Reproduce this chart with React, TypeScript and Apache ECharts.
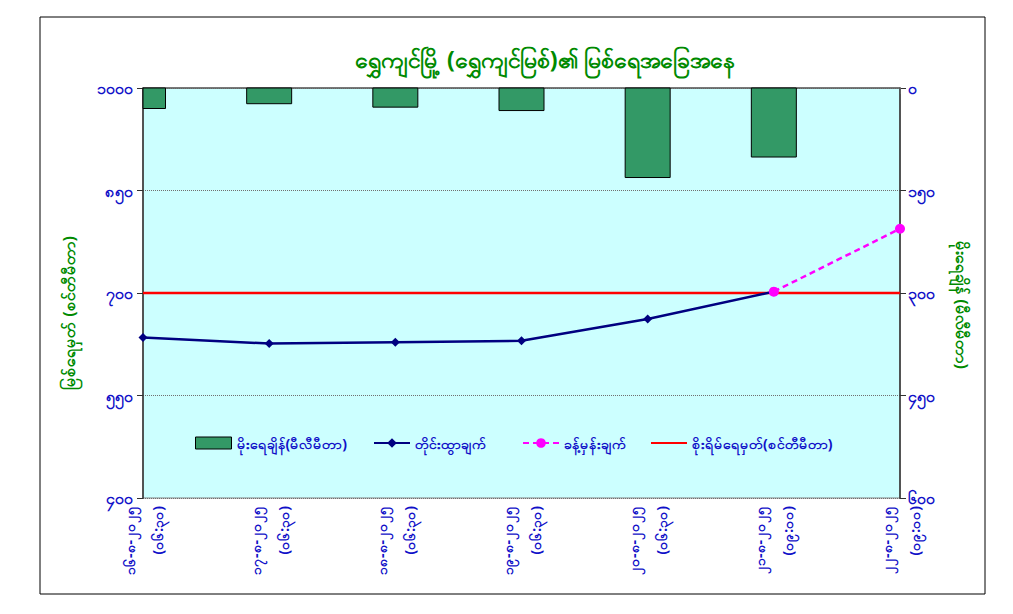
import React, { useEffect, useRef } from "react";
import * as echarts from "echarts";

const categories = [
  "၁၆-၈-၂၀၂၅\n(၀၆:၃၀)",
  "၁၇-၈-၂၀၂၅\n(၀၆:၃၀)",
  "၁၈-၈-၂၀၂၅\n(၀၆:၃၀)",
  "၁၉-၈-၂၀၂၅\n(၀၆:၃၀)",
  "၂၀-၈-၂၀၂၅\n(၀၆:၃၀)",
  "၂၁-၈-၂၀၂၅\n(၀၉:၀၀)",
  "၂၂-၈-၂၀၂၅\n(၀၉:၀၀)",
];
const rainfall = [30, 23, 28, 33, 131, 101, null];
const observed = [635, 626, 628, 630, 662, 702, null];
const forecast = [null, null, null, null, null, 702, 794];
const dangerLevel = [700, 700, 700, 700, 700, 700, 700];

const titleText = "ရွှေကျင်မြို့ (ရွှေကျင်မြစ်)၏ မြစ်ရေအခြေအနေ";
const leftAxisName = "မြစ်ရေမှတ် (စင်တီမီတာ)";
const rightAxisName = "မိုးရေချိန် (မီလီမီတာ)";
const seriesNames = [
  "မိုးရေချိန်(မီလီမီတာ)",
  "တိုင်းထွာချက်",
  "ခန့်မှန်းချက်",
  "စိုးရိမ်ရေမှတ်(စင်တီမီတာ)",
];

const MM_DIGITS = "၀၁၂၃၄၅၆၇၈၉";
const toMM = (v: number | string) =>
  String(v).replace(/[0-9]/g, (d) => MM_DIGITS[Number(d)]);

const FONT = "'Noto Sans', 'DejaVu Sans', sans-serif";
const BLUE = "#1010c8";
const GREEN = "#008a00";
const BAR_GREEN = "#339966";

const legendText = { color: BLUE, fontWeight: "bold", fontSize: 14, fontFamily: FONT };
const legendBase = {
  top: 431,
  itemWidth: 36,
  itemHeight: 12,
  textStyle: legendText,
};

export default function App() {
  const ref = useRef<HTMLDivElement>(null);
  useEffect(() => {
    document.body.style.margin = "0";
    if (!ref.current) return;
    const chart = echarts.init(ref.current, undefined, { renderer: "svg" });
    const rainData = rainfall
      .map((v, i) => (v == null ? null : [i, v]))
      .filter((d) => d != null);
    chart.setOption({
      animation: false,
      backgroundColor: "#ffffff",
      textStyle: { fontFamily: FONT },
      title: {
        text: titleText,
        left: 350,
        top: 42,
        textStyle: { color: GREEN, fontSize: 23, fontWeight: "bold", fontFamily: FONT },
      },
      graphic: [
        {
          type: "rect",
          shape: { x: 40, y: 17, width: 945, height: 577 },
          style: { fill: "none", stroke: "#000", lineWidth: 1 },
          z: 0,
        },
      ],
      grid: {
        left: 143,
        right: 113,
        top: 88,
        bottom: 116,
        show: true,
        backgroundColor: "#ccffff",
        borderColor: "#808080",
        borderWidth: 1,
      },
      legend: [
        {
          ...legendBase,
          left: 190,
          data: [
            {
              name: seriesNames[0],
              icon: "rect",
              itemStyle: { color: BAR_GREEN, borderColor: "#000", borderWidth: 1 },
            },
          ],
        },
        { ...legendBase, left: 368, data: [seriesNames[1]] },
        { ...legendBase, left: 517, data: [seriesNames[2]] },
        {
          ...legendBase,
          left: 645,
          data: [{ name: seriesNames[3], itemStyle: { opacity: 0 } }],
        },
      ],
      xAxis: {
        type: "category",
        data: categories,
        boundaryGap: false,
        axisLine: { lineStyle: { color: "#606060", width: 1.5 } },
        axisTick: { show: true, alignWithLabel: true, length: 6, lineStyle: { color: "#606060" } },
        axisLabel: {
          rotate: 90,
          color: BLUE,
          fontWeight: "bold",
          fontSize: 14,
          lineHeight: 28,
          margin: 8,
          interval: 0,
        },
        splitLine: { show: false },
      },
      yAxis: [
        {
          type: "value",
          min: 400,
          max: 1000,
          interval: 150,
          position: "left",
          name: leftAxisName,
          nameLocation: "middle",
          nameRotate: 90,
          nameGap: 66,
          nameTextStyle: {
            color: GREEN,
            fontWeight: "bold",
            fontSize: 16,
            fontFamily: FONT,
            padding: [0, 40, 0, 0],
          },
          axisLine: { show: true, lineStyle: { color: "#303030", width: 1.5 } },
          axisTick: { show: true, length: 6, lineStyle: { color: "#303030" } },
          axisLabel: {
            color: BLUE,
            fontWeight: "bold",
            fontSize: 16,
            margin: 10,
            formatter: (v: number) => toMM(v),
          },
          splitLine: { show: true, lineStyle: { color: "#707070", type: "dotted", width: 1 } },
        },
        {
          type: "value",
          min: 0,
          max: 600,
          interval: 150,
          inverse: true,
          position: "right",
          name: rightAxisName,
          nameLocation: "middle",
          nameRotate: -90,
          nameGap: 54,
          nameTextStyle: {
            color: GREEN,
            fontWeight: "bold",
            fontSize: 16,
            fontFamily: FONT,
            padding: [0, 0, 0, 24],
          },
          axisLine: { show: true, lineStyle: { color: "#303030", width: 1.5 } },
          axisTick: { show: true, length: 6, lineStyle: { color: "#303030" } },
          axisLabel: {
            color: BLUE,
            fontWeight: "bold",
            fontSize: 16,
            margin: 8,
            formatter: (v: number) => toMM(v),
          },
          splitLine: { show: false },
        },
      ],
      series: [
        {
          name: seriesNames[0],
          type: "custom",
          yAxisIndex: 1,
          data: rainData,
          encode: { x: 0, y: 1 },
          itemStyle: { color: BAR_GREEN, borderColor: "#000", borderWidth: 1 },
          z: 2,
          renderItem: (params: any, api: any) => {
            const i = api.value(0);
            const v = api.value(1);
            const p0 = api.coord([i, 0]);
            const p1 = api.coord([i, v]);
            const w = 45;
            const cs = params.coordSys;
            const shape = echarts.graphic.clipRectByRect(
              {
                x: p0[0] - w / 2,
                y: Math.min(p0[1], p1[1]),
                width: w,
                height: Math.abs(p1[1] - p0[1]),
              },
              { x: cs.x, y: cs.y, width: cs.width, height: cs.height }
            );
            if (!shape) return null;
            return {
              type: "rect",
              shape,
              style: { fill: BAR_GREEN, stroke: "#000", lineWidth: 1 },
            };
          },
        },
        {
          name: seriesNames[3],
          type: "line",
          yAxisIndex: 0,
          data: dangerLevel,
          symbol: "none",
          lineStyle: { color: "#ff0000", width: 2.5 },
          itemStyle: { color: "#ff0000" },
          z: 3,
        },
        {
          name: seriesNames[1],
          type: "line",
          yAxisIndex: 0,
          data: observed,
          symbol: "diamond",
          symbolSize: 9,
          showAllSymbol: true,
          lineStyle: { color: "#000080", width: 2.5 },
          itemStyle: { color: "#000080" },
          z: 4,
        },
        {
          name: seriesNames[2],
          type: "line",
          yAxisIndex: 0,
          data: forecast,
          symbol: "circle",
          symbolSize: 10,
          showAllSymbol: true,
          lineStyle: { color: "#ff00ff", width: 2.5, type: [6, 4] },
          itemStyle: { color: "#ff00ff" },
          z: 5,
        },
      ],
    });
    return () => chart.dispose();
  }, []);
  return <div ref={ref} style={{ width: 1013, height: 614 }} />;
}
